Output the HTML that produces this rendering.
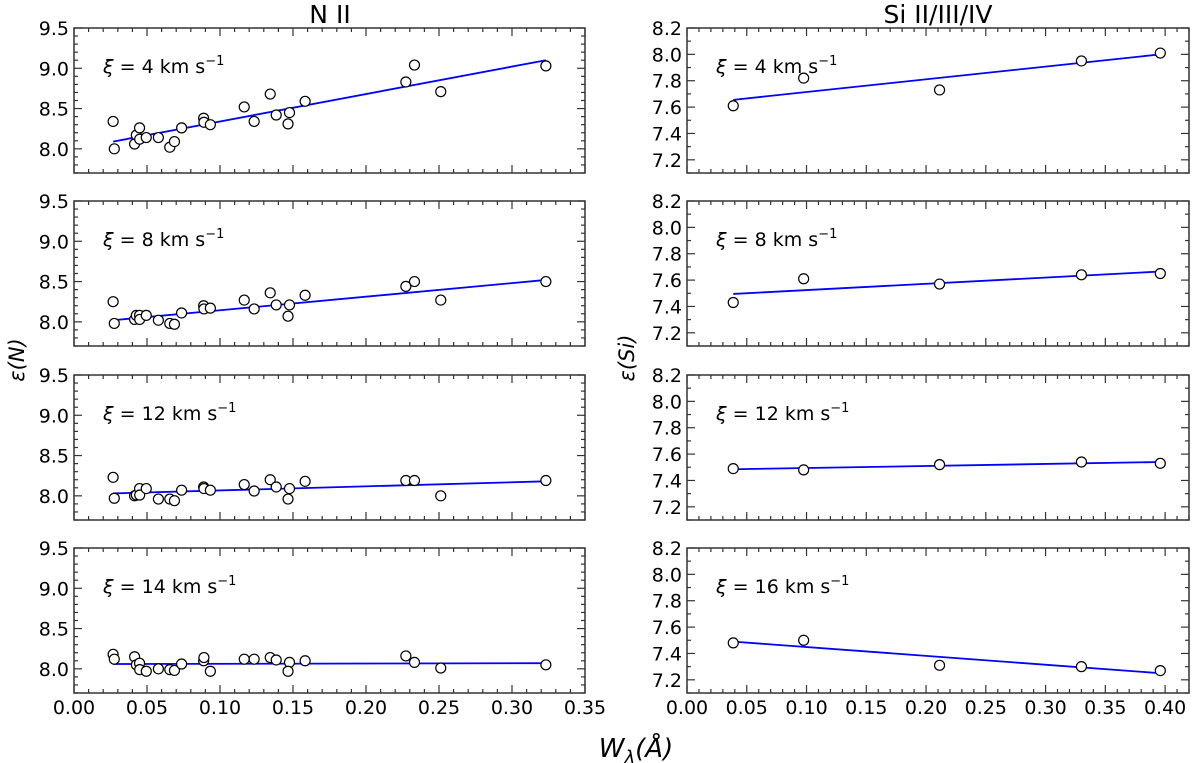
<!DOCTYPE html>
<html><head><meta charset="utf-8"><style>
body{margin:0;background:#fff;}
svg{display:block;font-family:"DejaVu Sans","Liberation Sans",sans-serif;}
</style></head><body>
<svg id="fig" width="1200" height="763" viewBox="0 0 1200 763">
<text x="330" y="23" font-size="25" text-anchor="middle">N II</text>
<text x="938" y="23" font-size="25" text-anchor="middle">Si II/III/IV</text>
<text x="636" y="757" font-size="26" text-anchor="middle" font-style="italic">W<tspan font-size="18" dy="6">λ</tspan><tspan dy="-6">(Å)</tspan></text>
<text transform="translate(24,360) rotate(-90)" font-size="21" text-anchor="middle" font-style="italic">ε(N)</text>
<text transform="translate(634,358) rotate(-90)" font-size="21" text-anchor="middle" font-style="italic">ε(Si)</text>
</svg>
<script>
const nX = [0.0268,0.0276,0.0415,0.0427,0.0449,0.045,0.0495,0.0578,0.0656,0.0688,0.0737,0.0888,0.089,0.0934,0.1166,0.1234,0.1344,0.1385,0.1476,0.1466,0.1583,0.2273,0.2332,0.2512,0.3232];
const nY4 = [8.34,8.00,8.06,8.17,8.26,8.12,8.14,8.14,8.02,8.09,8.26,8.38,8.33,8.30,8.52,8.34,8.68,8.42,8.45,8.31,8.59,8.83,9.04,8.71,9.03];
const nY8 = [8.25,7.98,8.03,8.08,8.08,8.03,8.08,8.02,7.98,7.97,8.11,8.20,8.16,8.17,8.27,8.16,8.36,8.21,8.21,8.07,8.33,8.44,8.50,8.27,8.50];
const nY12 = [8.23,7.97,8.00,8.01,8.09,8.01,8.09,7.96,7.96,7.94,8.07,8.11,8.09,8.07,8.14,8.06,8.20,8.11,8.09,7.96,8.18,8.19,8.19,8.00,8.19];
const nY14 = [8.18,8.12,8.15,8.05,8.07,7.99,7.97,8.00,7.99,7.98,8.06,8.10,8.14,7.97,8.12,8.12,8.14,8.11,8.08,7.97,8.10,8.16,8.08,8.01,8.05];
const nFit = [[8.09,9.10],[8.02,8.52],[8.03,8.18],[8.06,8.07]];
const nXi = [4,8,12,14];
const sX = [0.0387,0.0976,0.2113,0.330,0.396];
const sY4 = [7.61,7.82,7.73,7.95,8.01];
const sY8 = [7.43,7.61,7.57,7.64,7.65];
const sY12 = [7.49,7.48,7.52,7.54,7.53];
const sY16 = [7.48,7.50,7.31,7.30,7.27];
const sFit = [[7.655,8.0],[7.495,7.665],[7.485,7.54],[7.49,7.25]];
const sXi = [4,8,12,16];
const nXTicks = ["0.00","0.05","0.10","0.15","0.20","0.25","0.30","0.35"];
const sXTicks = ["0.00","0.05","0.10","0.15","0.20","0.25","0.30","0.35","0.40"];
const nYTicks = ["8.0","8.5","9.0","9.5"];
const sYTicks = ["7.2","7.4","7.6","7.8","8.0","8.2"];

const NS="http://www.w3.org/2000/svg";
const svg=document.getElementById('fig');
function mk(tag,attrs,parent){const e=document.createElementNS(NS,tag);for(const k in attrs)e.setAttribute(k,attrs[k]);(parent||svg).appendChild(e);return e;}
const tops=[28,201,375,548], H=145;

function panel(cfg,row){
  const top=tops[row], L=cfg.left, R=cfg.right, B=top+H;
  const g=mk('g',{});
  
  
  const sx=v=>L+(v-cfg.x0)/(cfg.x1-cfg.x0)*(R-L);
  const sy=v=>B-(v-cfg.y0)/(cfg.y1-cfg.y0)*H;
  for(let v=cfg.x0;v<=cfg.x1+1e-9;v+=0.01){
    const vv=Math.round(v*100)/100;
    const major=Math.abs(vv/0.05-Math.round(vv/0.05))<1e-6;
    const len=major?8:4, x=sx(vv);
    mk('line',{x1:x,x2:x,y1:B,y2:B-len,stroke:'#333','stroke-width':1.2},g);
    mk('line',{x1:x,x2:x,y1:top,y2:top+len,stroke:'#333','stroke-width':1.2},g);
  }
  for(let v=cfg.y0;v<=cfg.y1+1e-9;v+=cfg.ym){
    const vv=Math.round(v*1000)/1000;
    const major=Math.abs(vv/cfg.yM-Math.round(vv/cfg.yM))<1e-6;
    const len=major?8:4, y=sy(vv);
    mk('line',{x1:L,x2:L+len,y1:y,y2:y,stroke:'#333','stroke-width':1.2},g);
    mk('line',{x1:R,x2:R-len,y1:y,y2:y,stroke:'#333','stroke-width':1.2},g);
  }
  cfg.yt.forEach(t=>{
    const lab=mk('text',{x:L-5,y:sy(parseFloat(t))+7,'font-size':19,'text-anchor':'end'},g);
    lab.textContent=t;
    
    
  });
  if(row===3){
    cfg.xt.forEach(t=>{
      const lab=mk('text',{x:sx(parseFloat(t)),y:B+21,'font-size':19,'text-anchor':'middle'},g);
      lab.textContent=t;
      
      
    });
  }
  const fx=cfg.xs, fy=cfg.ys[row], fit=cfg.fit[row];
  const xmin=Math.min(...fx), xmax=Math.max(...fx);
  const ln=mk('line',{x1:sx(xmin),y1:sy(fit[0]),x2:sx(xmax),y2:sy(fit[1]),stroke:'#0000ff','stroke-width':1.8},g);
  
  
  fx.forEach((xv,i)=>{
    const c=mk('circle',{cx:sx(xv),cy:sy(fy[i]),r:5,fill:'#fff',stroke:'#000','stroke-width':1.2},g);
    
    
  });
  const fr=mk('rect',{x:L,y:top,width:R-L,height:H,fill:'none',stroke:'#333','stroke-width':1.5},g);
  
  
  const an=mk('text',{x:L+29,y:top+45,'font-size':19},g);
  an.innerHTML='<tspan font-style="italic">ξ</tspan> = '+cfg.xi[row]+' km s<tspan font-size="13" dy="-8">−1</tspan>';
  
  
}
const nCfg={name:'n-ii',left:74,right:585,x0:0,x1:0.35,y0:7.7,y1:9.5,ym:0.1,yM:0.5,yt:nYTicks,xt:nXTicks,xs:nX,ys:[nY4,nY8,nY12,nY14],fit:nFit,xi:nXi};
const sCfg={name:'si',left:687,right:1189,x0:0,x1:0.42,y0:7.1,y1:8.2,ym:0.1,yM:0.2,yt:sYTicks,xt:sXTicks,xs:sX,ys:[sY4,sY8,sY12,sY16],fit:sFit,xi:sXi};
for(let r=0;r<4;r++){panel(nCfg,r);panel(sCfg,r);}
</script>
</body></html>
